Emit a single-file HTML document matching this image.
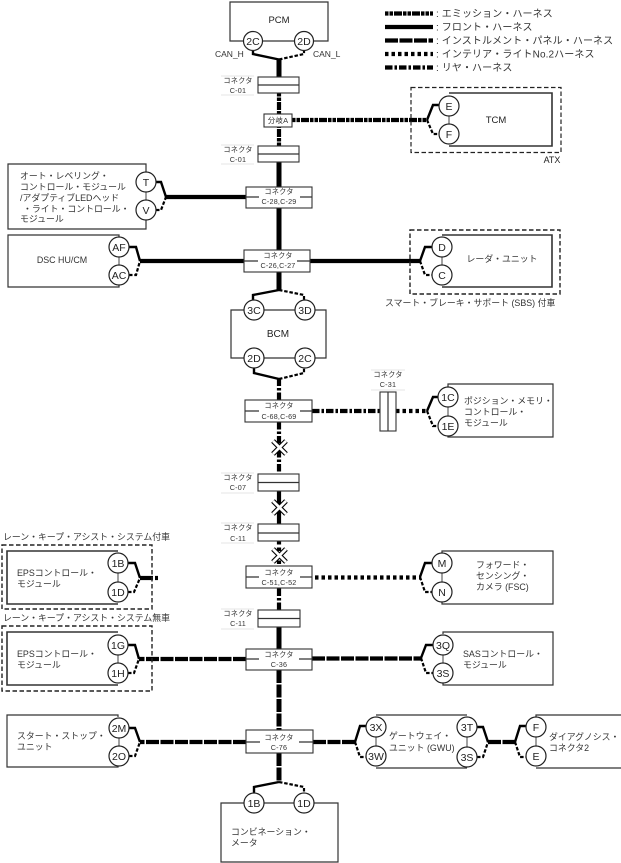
<!DOCTYPE html>
<html><head><meta charset="utf-8">
<style>
html,body{margin:0;padding:0;background:#fff;width:621px;height:863px;overflow:hidden}
svg{display:block}
text{font-family:"Liberation Sans","Noto Sans CJK JP",sans-serif;fill:#333;font-size:8.9px}
.m{text-anchor:middle}
.s{font-size:7.2px;letter-spacing:.2px}
.c{font-size:10.5px;text-anchor:middle;fill:#222}
.l{font-size:10px;letter-spacing:.1px}
.b{fill:#fff;stroke:#333;stroke-width:1.1}
.o{fill:none;stroke:#333;stroke-width:1.2}
.d{fill:none;stroke:#222;stroke-width:1.2;stroke-dasharray:4.5 2.5}
.w{fill:none;stroke:#000;stroke-width:2.4}
.wd{fill:none;stroke:#000;stroke-width:2.2;stroke-dasharray:3.5 1.8}
.ci{fill:#fff;stroke:#222;stroke-width:1.2}
.sol{stroke:#000;stroke-width:4.2;fill:none}
.em{stroke:#000;stroke-width:4.2;fill:none;stroke-dasharray:3.5 1 3.5 1 8 1}
.ins{stroke:#000;stroke-width:4.2;fill:none;stroke-dasharray:13 1.5}
.int{stroke:#000;stroke-width:4.2;fill:none;stroke-dasharray:3.5 3}
.re{stroke:#000;stroke-width:4.2;fill:none;stroke-dasharray:7.5 2 2.5 2}
.g{stroke:#555;stroke-width:1.1}
.xo{stroke:#000;stroke-width:5;fill:none}
.xi{stroke:#fff;stroke-width:2.8;fill:none}
.lb{stroke:#ddd;stroke-width:.7}
</style></head><body>
<svg width="621" height="863" viewBox="0 0 621 863" xmlns="http://www.w3.org/2000/svg">
<!-- Legend -->
<line class="em" x1="385" y1="13.5" x2="433" y2="13.5"/>
<line class="sol" x1="385" y1="27" x2="433" y2="27"/>
<line class="ins" x1="385" y1="40.5" x2="433" y2="40.5"/>
<line class="int" x1="385" y1="54" x2="433" y2="54"/>
<line class="re" x1="385" y1="67.5" x2="433" y2="67.5"/>
<text class="l" x="436" y="17">: エミッション・ハーネス</text>
<text class="l" x="436" y="30.5">: フロント・ハーネス</text>
<text class="l" x="436" y="44">: インストルメント・パネル・ハーネス</text>
<text class="l" x="436" y="57.5">: インテリア・ライトNo.2ハーネス</text>
<text class="l" x="436" y="71">: リヤ・ハーネス</text>

<!-- Main vertical wires -->
<line class="sol" x1="279" y1="59" x2="279" y2="77" style="stroke-width:5"/>
<line class="em" x1="279" y1="93" x2="279" y2="114"/>
<line class="em" x1="279" y1="146" x2="279" y2="127"/>
<line class="sol" x1="279" y1="162" x2="279" y2="187" style="stroke-width:5"/>
<line class="sol" x1="279" y1="208" x2="279" y2="250" style="stroke-width:5"/>
<line class="sol" x1="279" y1="272" x2="279" y2="290" style="stroke-width:5"/>
<line class="re" x1="279" y1="400" x2="279" y2="379"/>
<line class="re" x1="279" y1="422" x2="279" y2="474"/>
<line class="sol" x1="279" y1="491" x2="279" y2="524"/>
<line class="int" x1="279" y1="541" x2="279" y2="566"/>
<line class="re" x1="279" y1="610" x2="279" y2="588"/>
<line class="sol" x1="279" y1="627" x2="279" y2="649" style="stroke-width:5"/>
<line class="ins" x1="279" y1="670" x2="279" y2="730" style="stroke-width:5"/>
<line class="ins" x1="279" y1="753" x2="279" y2="782" style="stroke-width:5"/>

<!-- Horizontal wires -->
<line class="em" x1="292" y1="120" x2="428" y2="120"/>
<line class="sol" x1="166" y1="197" x2="246" y2="197"/>
<line class="sol" x1="140" y1="261" x2="244" y2="261"/>
<line class="sol" x1="310" y1="261" x2="421" y2="261"/>
<line class="re" x1="312" y1="411" x2="380" y2="411"/>
<line class="int" x1="396" y1="411" x2="427" y2="411"/>
<line class="int" x1="315" y1="577.5" x2="421" y2="577.5"/>
<line class="sol" x1="140" y1="578" x2="153" y2="578"/>
<line class="sol" x1="155" y1="578" x2="158" y2="578"/>
<line class="ins" x1="246" y1="659" x2="139" y2="659"/>
<line class="ins" x1="312" y1="658.5" x2="422" y2="658.5"/>
<line class="ins" x1="246" y1="742" x2="140" y2="742"/>
<line class="ins" x1="313" y1="742" x2="355" y2="742"/>
<line class="ins" x1="488" y1="742" x2="516" y2="742"/>

<!-- Branches -->
<path class="w" d="M253 51V54L279 59.500"/><path class="wd" d="M279 59.500L304 54V51"/>
<path class="w" d="M427 120L433 105H440"/><path class="wd" d="M427 120L433 134H440"/>
<path class="w" d="M156 182H161L166 197"/><path class="wd" d="M156 210H161L166 197"/>
<path class="w" d="M129 247H136L140 261"/><path class="wd" d="M129 275H136L140 261"/>
<path class="w" d="M420 261L425 247H433"/><path class="wd" d="M420 261L425 275H433"/>
<path class="w" d="M253 300V295L279 290"/><path class="wd" d="M279 290L304 295V300"/>
<path class="w" d="M254 368V373L279 379"/><path class="wd" d="M279 379L304 373V368"/>
<path class="w" d="M427 411L433 397H440"/><path class="wd" d="M427 411L433 426H440"/>
<path class="w" d="M128 563H135L140 578"/><path class="wd" d="M128 592H134L140 578"/>
<path class="w" d="M420 577L425 563H433"/><path class="wd" d="M420 577L425 592H433"/>
<path class="w" d="M128 645H135L139 659"/><path class="wd" d="M128 673H134L139 659"/>
<path class="w" d="M421 658L426 645H434"/><path class="wd" d="M421 658L426 673H434"/>
<path class="w" d="M129 728H135L140 742"/><path class="wd" d="M129 756H135L140 742"/>
<path class="w" d="M355 742L360 726H367"/><path class="wd" d="M355 742L360 757H367"/>
<path class="w" d="M477 727H483L488 742"/><path class="wd" d="M477 757H483L488 742"/>
<path class="w" d="M515 742L520 726H527"/><path class="wd" d="M515 742L520 757H527"/>
<path class="w" d="M254 793V787L279 782"/><path class="wd" d="M279 782L304 787V793"/>

<!-- PCM -->
<path class="o" d="M253 41H230V2H328V41H304M253 41H304"/>
<text class="c" x="279" y="23" style="font-size:9.5px">PCM</text>
<text x="215" y="57" style="font-size:8.5px">CAN_H</text>
<text x="313" y="57" style="font-size:8.5px">CAN_L</text>
<circle class="ci" cx="253" cy="41" r="9.500"/><circle class="ci" cx="304" cy="41" r="9.500"/>
<text class="c" x="253" y="45">2C</text><text class="c" x="304" y="45">2D</text>

<!-- Connectors simple -->
<g>
<rect class="b" x="258" y="77" width="41" height="16"/><line class="o" x1="258" y1="85" x2="299" y2="85"/>
<line class="lb" x1="221" y1="76" x2="254" y2="76"/><line class="lb" x1="221" y1="95" x2="254" y2="95"/>
<text class="s m" x="238" y="83">コネクタ</text><text class="s m" x="238" y="93">C-01</text>

<rect class="b" x="264" y="114" width="28" height="13"/>
<text class="s m" x="278" y="123" style="font-size:7.5px">分岐A</text>

<rect class="b" x="258" y="146" width="41" height="16"/><line class="o" x1="258" y1="154" x2="299" y2="154"/>
<line class="lb" x1="221" y1="145" x2="254" y2="145"/><line class="lb" x1="221" y1="164" x2="254" y2="164"/>
<text class="s m" x="238" y="152">コネクタ</text><text class="s m" x="238" y="162">C-01</text>

<rect class="b" x="258" y="474" width="41" height="17"/><line class="o" x1="258" y1="482.500" x2="299" y2="482.500"/>
<line class="lb" x1="221" y1="473" x2="254" y2="473"/><line class="lb" x1="221" y1="493" x2="254" y2="493"/>
<text class="s m" x="238" y="480">コネクタ</text><text class="s m" x="238" y="490">C-07</text>

<rect class="b" x="258" y="524" width="41" height="17"/><line class="o" x1="258" y1="533" x2="299" y2="533"/>
<line class="lb" x1="221" y1="523" x2="254" y2="523"/><line class="lb" x1="221" y1="543" x2="254" y2="543"/>
<text class="s m" x="238" y="530">コネクタ</text><text class="s m" x="238" y="541">C-11</text>

<rect class="b" x="258" y="610" width="42" height="17"/><line class="o" x1="258" y1="618.500" x2="300" y2="618.500"/>
<line class="lb" x1="221" y1="609" x2="254" y2="609"/><line class="lb" x1="221" y1="629" x2="254" y2="629"/>
<text class="s m" x="238" y="616">コネクタ</text><text class="s m" x="238" y="626">C-11</text>
</g>

<!-- Connectors wide -->
<g>
<rect class="b" x="246" y="187" width="66" height="21"/><path class="o" d="M246 197H259M300 197H312"/>
<text class="s m" x="279" y="194">コネクタ</text><text class="s m" x="279" y="204">C-28,C-29</text>

<rect class="b" x="244" y="250" width="66" height="22"/><path class="o" d="M244 261H258M297 261H310"/>
<text class="s m" x="278" y="258">コネクタ</text><text class="s m" x="278" y="268">C-26,C-27</text>

<rect class="b" x="245" y="400" width="67" height="22"/><path class="o" d="M245 411H259M300 411H312"/>
<text class="s m" x="279" y="408">コネクタ</text><text class="s m" x="279" y="419">C-68,C-69</text>

<rect class="b" x="246" y="566" width="66" height="22"/><path class="o" d="M246 577H259M300 577H312"/>
<text class="s m" x="279" y="575">コネクタ</text><text class="s m" x="279" y="585">C-51,C-52</text>

<rect class="b" x="246" y="649" width="66" height="21"/><path class="o" d="M246 659H259M299 659H312"/>
<text class="s m" x="279" y="657">コネクタ</text><text class="s m" x="279" y="667">C-36</text>

<rect class="b" x="246" y="730" width="67" height="23"/><path class="o" d="M246 742H260M299 742H313"/>
<text class="s m" x="279" y="740">コネクタ</text><text class="s m" x="279" y="750">C-76</text>
</g>

<!-- C-31 -->
<rect class="b" x="380" y="392" width="16" height="39"/><line class="o" x1="388" y1="392" x2="388" y2="431"/>
<line class="lb" x1="371" y1="370" x2="405" y2="370"/><line class="lb" x1="371" y1="390" x2="405" y2="390"/>
<text class="s m" x="388" y="377">コネクタ</text><text class="s m" x="388" y="387">C-31</text>

<!-- X marks -->
<g>
<path class="xo" d="M273 441L286 454M286 441L273 454"/><path class="xi" d="M273 441L286 454M286 441L273 454"/>
<path class="xo" d="M273 501L286 514M286 501L273 514"/><path class="xi" d="M273 501L286 514M286 501L273 514"/>
<path class="xo" d="M273 549L286 562M286 549L273 562"/><path class="xi" d="M273 549L286 562M286 549L273 562"/>
</g>

<!-- TCM -->
<rect class="d" x="411" y="87.500" width="150" height="65"/>
<path class="o" d="M449 93H552V146H449" style="stroke-width:1.6"/>
<line class="g" x1="449" y1="106" x2="449" y2="134"/>
<circle class="ci" cx="449" cy="106" r="10"/><circle class="ci" cx="449" cy="134" r="10"/>
<text class="c" x="449" y="110">E</text><text class="c" x="449" y="138">F</text>
<text class="c" x="496" y="123" style="font-size:9.5px">TCM</text>
<text class="c" x="552" y="163" style="font-size:9px">ATX</text>

<!-- Auto leveling -->
<path class="o" d="M146 172V164H8V229H146V220"/>
<line class="g" x1="146" y1="182" x2="146" y2="210"/>
<circle class="ci" cx="146" cy="182" r="10"/><circle class="ci" cx="146" cy="210" r="10"/>
<text class="c" x="146" y="186">T</text><text class="c" x="146" y="214">V</text>
<text x="20" y="179">オート・レベリング・</text>
<text x="20" y="190">コントロール・モジュール</text>
<text x="20" y="201">/アダプティブLEDヘッド</text>
<text x="23" y="212">・ライト・コントロール・</text>
<text x="20" y="222">モジュール</text>

<!-- DSC -->
<path class="o" d="M119 237V235H8V287H119V285"/>
<line class="g" x1="119" y1="247" x2="119" y2="275"/>
<circle class="ci" cx="119" cy="247" r="10"/><circle class="ci" cx="119" cy="275" r="10"/>
<text class="c" x="119" y="251">AF</text><text class="c" x="119" y="279">AC</text>
<text class="m" x="62" y="263">DSC HU/CM</text>

<!-- Radar -->
<rect class="d" x="410" y="230" width="150" height="64" style="stroke-width:1.4"/>
<path class="o" d="M442 235H552V287H442" style="stroke-width:1.6"/>
<line class="g" x1="442" y1="247" x2="442" y2="275"/>
<circle class="ci" cx="442" cy="247" r="10"/><circle class="ci" cx="442" cy="275" r="10"/>
<text class="c" x="442" y="251">D</text><text class="c" x="442" y="279">C</text>
<text class="m" x="502" y="262">レーダ・ユニット</text>
<text x="385" y="306">スマート・ブレーキ・サポート (SBS) 付車</text>

<!-- BCM -->
<path class="o" d="M254 310H231V358H326V310H254"/>
<circle class="ci" cx="254" cy="310" r="10"/><circle class="ci" cx="305" cy="310" r="10"/>
<circle class="ci" cx="254" cy="358" r="10"/><circle class="ci" cx="305" cy="358" r="10"/>
<text class="c" x="254" y="314">3C</text><text class="c" x="305" y="314">3D</text>
<text class="c" x="254" y="362">2D</text><text class="c" x="305" y="362">2C</text>
<text class="c" x="278" y="337" style="font-size:10px">BCM</text>

<!-- Position memory -->
<path class="o" d="M448 387V384H553V437H448V436"/>
<line class="g" x1="448" y1="397" x2="448" y2="426"/>
<circle class="ci" cx="448" cy="397" r="10"/><circle class="ci" cx="448" cy="426" r="10"/>
<text class="c" x="448" y="401">1C</text><text class="c" x="448" y="430">1E</text>
<text x="464" y="404">ポジション・メモリ・</text>
<text x="464" y="415">コントロール・</text>
<text x="464" y="426">モジュール</text>

<!-- EPS upper -->
<text x="3" y="540">レーン・キープ・アシスト・システム付車</text>
<rect class="d" x="2" y="545" width="150" height="64" style="stroke-width:1.4"/>
<path class="o" d="M118 551H7V604H118" style="stroke-width:1.6"/>
<line class="g" x1="118" y1="563" x2="118" y2="592"/>
<circle class="ci" cx="118" cy="563" r="10"/><circle class="ci" cx="118" cy="592" r="10"/>
<text class="c" x="118" y="567">1B</text><text class="c" x="118" y="596">1D</text>
<text x="17" y="576">EPSコントロール・</text>
<text x="17" y="587">モジュール</text>

<!-- EPS lower -->
<text x="3" y="621">レーン・キープ・アシスト・システム無車</text>
<rect class="d" x="2" y="626" width="150" height="65" style="stroke-width:1.4"/>
<path class="o" d="M118 632H7V685H118" style="stroke-width:1.6"/>
<line class="g" x1="118" y1="645" x2="118" y2="673"/>
<circle class="ci" cx="118" cy="645" r="10"/><circle class="ci" cx="118" cy="673" r="10"/>
<text class="c" x="118" y="649">1G</text><text class="c" x="118" y="677">1H</text>
<text x="17" y="657">EPSコントロール・</text>
<text x="17" y="668">モジュール</text>

<!-- FSC -->
<path class="o" d="M442 553V551H553V604H442V602"/>
<line class="g" x1="442" y1="563" x2="442" y2="592"/>
<circle class="ci" cx="442" cy="563" r="10"/><circle class="ci" cx="442" cy="592" r="10"/>
<text class="c" x="442" y="567">M</text><text class="c" x="442" y="596">N</text>
<text x="476" y="568">フォワード・</text>
<text x="476" y="579">センシング・</text>
<text x="476" y="590">カメラ (FSC)</text>

<!-- SAS -->
<path class="o" d="M443 634V632H553V685H443V683"/>
<line class="g" x1="443" y1="645" x2="443" y2="673"/>
<circle class="ci" cx="443" cy="645" r="10"/><circle class="ci" cx="443" cy="673" r="10"/>
<text class="c" x="443" y="649">3Q</text><text class="c" x="443" y="677">3S</text>
<text x="463" y="657">SASコントロール・</text>
<text x="463" y="668">モジュール</text>

<!-- Start stop -->
<path class="o" d="M118 717V715H7V767H118V766"/>
<line class="g" x1="119" y1="728" x2="119" y2="756"/>
<circle class="ci" cx="119" cy="728" r="10"/><circle class="ci" cx="119" cy="756" r="10"/>
<text class="c" x="119" y="732">2M</text><text class="c" x="119" y="760">2O</text>
<text x="17" y="739">スタート・ストップ・</text>
<text x="17" y="750">ユニット</text>

<!-- GWU -->
<path class="o" d="M376 715H467M376 768H467"/>
<line class="g" x1="376" y1="727" x2="376" y2="756"/><line class="g" x1="467" y1="727" x2="467" y2="757"/>
<circle class="ci" cx="376" cy="727" r="10"/><circle class="ci" cx="376" cy="756" r="10"/>
<circle class="ci" cx="467" cy="727" r="10"/><circle class="ci" cx="467" cy="757" r="10"/>
<text class="c" x="376" y="731">3X</text><text class="c" x="376" y="760">3W</text>
<text class="c" x="467" y="731">3T</text><text class="c" x="467" y="761">3S</text>
<text x="389" y="739">ゲートウェイ・</text>
<text x="389" y="751">ユニット (GWU)</text>

<!-- Diag -->
<path class="o" d="M536 717V715H621M536 768H621"/>
<line class="g" x1="536" y1="727" x2="536" y2="756"/>
<circle class="ci" cx="536" cy="727" r="10"/><circle class="ci" cx="536" cy="756" r="10"/>
<text class="c" x="536" y="731">F</text><text class="c" x="536" y="760">E</text>
<text x="549" y="740">ダイアグノシス・</text>
<text x="549" y="751">コネクタ2</text>

<!-- Meter -->
<path class="o" d="M254 803H221V862H338V803H254"/>
<circle class="ci" cx="254" cy="803" r="10"/><circle class="ci" cx="304" cy="803" r="10"/>
<text class="c" x="254" y="807">1B</text><text class="c" x="304" y="807">1D</text>
<text x="231" y="835">コンビネーション・</text>
<text x="231" y="846">メータ</text>
</svg>
</body></html>
